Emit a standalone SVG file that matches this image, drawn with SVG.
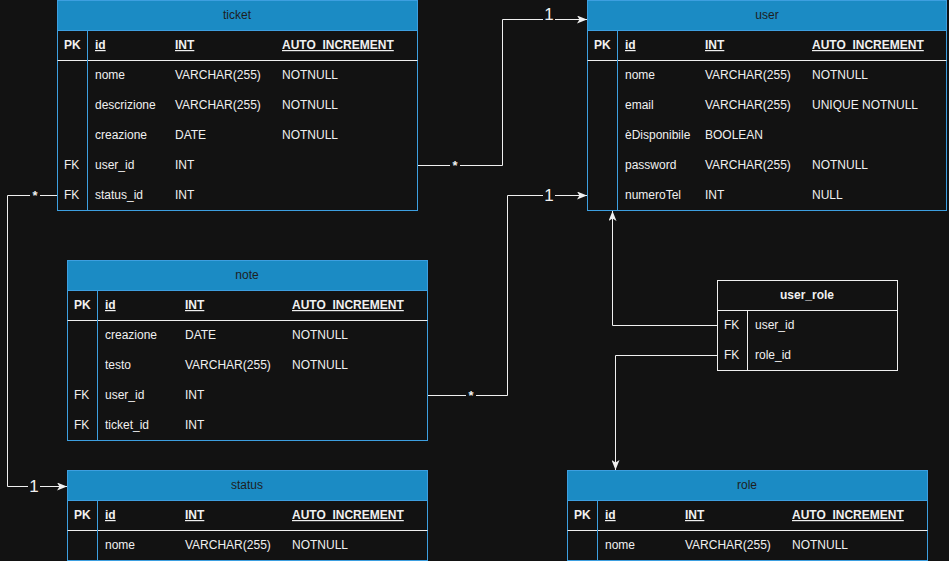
<svg xmlns="http://www.w3.org/2000/svg" width="949" height="561" viewBox="0 0 949 561">
<style>
.bg{fill:#121212}
.tb{fill:#121212;stroke:#3d9fe0;stroke-width:1}
.hd{fill:#1b8bc4;stroke:#3d9fe0;stroke-width:1}
.wl{stroke:#f0f0f0;stroke-width:1;fill:none}
.bl{stroke:#3d9fe0;stroke-width:1;fill:none}
.wt{fill:#121212;stroke:#f0f0f0;stroke-width:1}
text{font-family:"Liberation Sans",Arial,sans-serif;font-size:12px;fill:#f0f0f0}
.ht{fill:#1e1e1e;text-anchor:middle}
.hw{fill:#f0f0f0;text-anchor:middle;font-weight:bold}
.b{font-weight:bold}
.u{font-weight:bold;text-decoration:underline}
.edge{stroke:#f0f0f0;stroke-width:1;fill:none}
.lbl{font-size:13px;font-weight:bold;text-anchor:middle;fill:#f0f0f0}
.one{font-size:17px;text-anchor:middle;fill:#f0f0f0}
.lb{fill:#121212}
</style>
<defs>
<marker id="arr" viewBox="0 0 10 8" refX="10" refY="4" markerWidth="10" markerHeight="8" markerUnits="userSpaceOnUse" orient="auto">
<path d="M0,0 L10,4 L0,8 L2.5,4 Z" fill="#f0f0f0"/>
</marker>
</defs>
<rect class="bg" x="0" y="0" width="949" height="561"/>

<g id="connectors">
<path class="edge" d="M417.5,165.5 H502.5 V19.5 H587" marker-end="url(#arr)"/>
<path class="edge" d="M427.5,395.5 H507.5 V195.5 H587" marker-end="url(#arr)"/>
<path class="edge" d="M57.5,195.5 H7.5 V486.5 H67" marker-end="url(#arr)"/>
<path class="edge" d="M717.5,325.5 H612.5 V211" marker-end="url(#arr)"/>
<path class="edge" d="M717.5,355.5 H615.5 V470" marker-end="url(#arr)"/>
<rect class="lb" x="450" y="159" width="10" height="12"/>
<text class="lbl" x="455" y="170">*</text>
<rect class="lb" x="466" y="389" width="10" height="12"/>
<text class="lbl" x="471" y="400">*</text>
<rect class="lb" x="30" y="189" width="10" height="12"/>
<text class="lbl" x="35" y="200">*</text>
<rect class="lb" x="543" y="11" width="12" height="17"/>
<text class="one" x="549" y="20">1</text>
<rect class="lb" x="543" y="187" width="12" height="17"/>
<text class="one" x="549" y="201">1</text>
<rect class="lb" x="28" y="478" width="12" height="17"/>
<text class="one" x="34" y="492">1</text>
</g>

<g id="ticket" transform="translate(57,0)">
<rect class="tb" x="0.5" y="0.5" width="360" height="210"/>
<rect class="hd" x="0.5" y="0.5" width="360" height="30"/>
<line class="wl" x1="0.5" y1="60.5" x2="360.5" y2="60.5"/>
<line class="bl" x1="30.5" y1="30.5" x2="30.5" y2="210.5"/>
<text class="ht" x="180" y="19">ticket</text>
<text class="b" x="7" y="49">PK</text>
<text class="u" x="38" y="49">id</text>
<text class="u" x="118" y="49">INT</text>
<text class="u" x="225" y="49">AUTO_INCREMENT</text>
<text x="38" y="79">nome</text><text x="118" y="79">VARCHAR(255)</text><text x="225" y="79">NOTNULL</text>
<text x="38" y="109">descrizione</text><text x="118" y="109">VARCHAR(255)</text><text x="225" y="109">NOTNULL</text>
<text x="38" y="139">creazione</text><text x="118" y="139">DATE</text><text x="225" y="139">NOTNULL</text>
<text x="7" y="169">FK</text><text x="38" y="169">user_id</text><text x="118" y="169">INT</text>
<text x="7" y="199">FK</text><text x="38" y="199">status_id</text><text x="118" y="199">INT</text>
</g>

<g id="user" transform="translate(587,0)">
<rect class="tb" x="0.5" y="0.5" width="359" height="210"/>
<rect class="hd" x="0.5" y="0.5" width="359" height="30"/>
<line class="wl" x1="0.5" y1="60.5" x2="359.5" y2="60.5"/>
<line class="bl" x1="30.5" y1="30.5" x2="30.5" y2="210.5"/>
<text class="ht" x="180" y="19">user</text>
<text class="b" x="7" y="49">PK</text>
<text class="u" x="38" y="49">id</text>
<text class="u" x="118" y="49">INT</text>
<text class="u" x="225" y="49">AUTO_INCREMENT</text>
<text x="38" y="79">nome</text><text x="118" y="79">VARCHAR(255)</text><text x="225" y="79">NOTNULL</text>
<text x="38" y="109">email</text><text x="118" y="109">VARCHAR(255)</text><text x="225" y="109">UNIQUE NOTNULL</text>
<text x="38" y="139">èDisponibile</text><text x="118" y="139">BOOLEAN</text>
<text x="38" y="169">password</text><text x="118" y="169">VARCHAR(255)</text><text x="225" y="169">NOTNULL</text>
<text x="38" y="199">numeroTel</text><text x="118" y="199">INT</text><text x="225" y="199">NULL</text>
</g>

<g id="note" transform="translate(67,260)">
<rect class="tb" x="0.5" y="0.5" width="360" height="180"/>
<rect class="hd" x="0.5" y="0.5" width="360" height="30"/>
<line class="wl" x1="0.5" y1="60.5" x2="360.5" y2="60.5"/>
<line class="bl" x1="30.5" y1="30.5" x2="30.5" y2="180.5"/>
<text class="ht" x="180" y="19">note</text>
<text class="b" x="7" y="49">PK</text>
<text class="u" x="38" y="49">id</text>
<text class="u" x="118" y="49">INT</text>
<text class="u" x="225" y="49">AUTO_INCREMENT</text>
<text x="38" y="79">creazione</text><text x="118" y="79">DATE</text><text x="225" y="79">NOTNULL</text>
<text x="38" y="109">testo</text><text x="118" y="109">VARCHAR(255)</text><text x="225" y="109">NOTNULL</text>
<text x="7" y="139">FK</text><text x="38" y="139">user_id</text><text x="118" y="139">INT</text>
<text x="7" y="169">FK</text><text x="38" y="169">ticket_id</text><text x="118" y="169">INT</text>
</g>

<g id="status" transform="translate(67,470)">
<rect class="tb" x="0.5" y="0.5" width="360" height="90"/>
<rect class="hd" x="0.5" y="0.5" width="360" height="30"/>
<line class="wl" x1="0.5" y1="60.5" x2="360.5" y2="60.5"/>
<line class="bl" x1="30.5" y1="30.5" x2="30.5" y2="90.5"/>
<text class="ht" x="180" y="19">status</text>
<text class="b" x="7" y="49">PK</text>
<text class="u" x="38" y="49">id</text>
<text class="u" x="118" y="49">INT</text>
<text class="u" x="225" y="49">AUTO_INCREMENT</text>
<text x="38" y="79">nome</text><text x="118" y="79">VARCHAR(255)</text><text x="225" y="79">NOTNULL</text>
</g>

<g id="role" transform="translate(567,470)">
<rect class="tb" x="0.5" y="0.5" width="360" height="90"/>
<rect class="hd" x="0.5" y="0.5" width="360" height="30"/>
<line class="wl" x1="0.5" y1="60.5" x2="360.5" y2="60.5"/>
<line class="bl" x1="30.5" y1="30.5" x2="30.5" y2="90.5"/>
<text class="ht" x="180" y="19">role</text>
<text class="b" x="7" y="49">PK</text>
<text class="u" x="38" y="49">id</text>
<text class="u" x="118" y="49">INT</text>
<text class="u" x="225" y="49">AUTO_INCREMENT</text>
<text x="38" y="79">nome</text><text x="118" y="79">VARCHAR(255)</text><text x="225" y="79">NOTNULL</text>
</g>

<g id="user_role" transform="translate(717,280)">
<rect class="wt" x="0.5" y="0.5" width="180" height="90"/>
<line class="wl" x1="0.5" y1="30.5" x2="180.5" y2="30.5"/>
<line class="wl" x1="30.5" y1="30.5" x2="30.5" y2="90.5"/>
<text class="hw" x="90" y="19">user_role</text>
<text x="7" y="49">FK</text><text x="38" y="49">user_id</text>
<text x="7" y="79">FK</text><text x="38" y="79">role_id</text>
</g>
</svg>
